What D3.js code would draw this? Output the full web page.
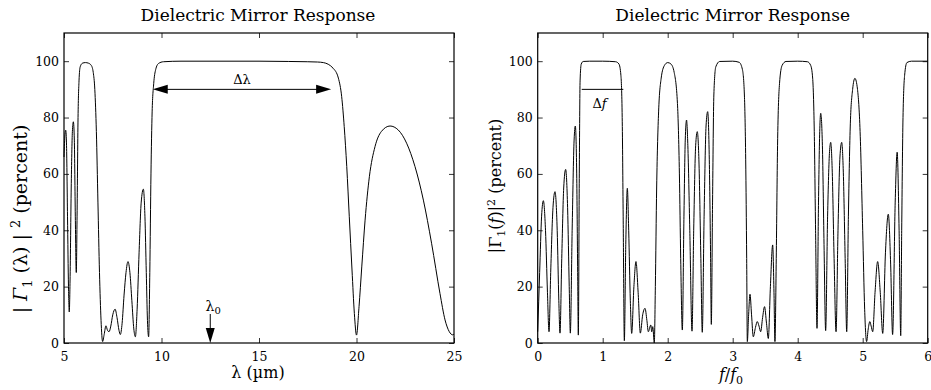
<!DOCTYPE html>
<html><head><meta charset="utf-8">
<script src="https://cdn.jsdelivr.net/npm/d3@7"></script>
<style>
body{margin:0;background:#fff}
text{font-family:"DejaVu Serif","Liberation Serif",serif;fill:#000}
</style>
</head><body>
<svg id="c" width="931" height="390"></svg>
<script>
// ---- data ----
const lambdaVals = [5.0,5.05,5.09,5.13,5.18,5.23,5.27,5.31,5.37,5.43,5.48,5.53,5.58,5.63,5.67,5.72,5.77,5.83,5.95,6.1,6.25,6.4,6.5,6.58,6.66,6.74,6.82,6.9,6.98,7.06,7.15,7.23,7.31,7.4,7.5,7.62,7.72,7.82,7.89,7.98,8.08,8.18,8.28,8.38,8.48,8.58,8.66,8.75,8.85,8.96,9.07,9.15,9.22,9.28,9.34,9.4,9.46,9.52,9.6,9.7,9.85,10.1,11,13,15,16.5,17.5,18.0,18.3,18.8,19.07,19.24,19.37,19.5,19.63,19.77,19.89,20.0,20.13,20.27,20.44,20.66,20.95,21.27,21.72,22.14,22.57,23.0,23.43,23.85,24.28,24.54,24.76,24.93,25.0];
const lambdaRefl = [66,74,75.5,70,45,20,11,22,55,75,78.5,72,45,25,45,80,93,98,99.3,99.5,99.3,98.5,96,90,75,50,25,8,0.5,3,6.1,4.5,4,6,10,12,9,4.5,3,7,17,25,28.9,25,15,5,2.2,12,32,50,54.6,45,25,8,2.2,25,60,82,92,97,99.2,99.8,100,100,100,99.9,99.8,99.7,99.5,97.5,94,87.4,76.8,62.6,44.8,25.9,10.5,2.8,12.9,27,43.6,59,69.7,75,77,75.6,70.9,62.6,50.7,35.4,17.6,8.2,4,2.9,3.2];

const freqVals = [0,0.03,0.06,0.087,0.12,0.15,0.174,0.2,0.235,0.266,0.3,0.325,0.343,0.37,0.4,0.43,0.46,0.485,0.502,0.53,0.56,0.579,0.6,0.615,0.625,0.64,0.652,0.67,0.7,0.8,1.0,1.2,1.25,1.28,1.3,1.315,1.333,1.355,1.379,1.4,1.425,1.446,1.48,1.512,1.545,1.579,1.615,1.651,1.68,1.702,1.74,1.754,1.77,1.794,1.81,1.83,1.86,1.9,1.95,2.0,2.05,2.1,2.15,2.18,2.2,2.225,2.25,2.27,2.29,2.31,2.34,2.374,2.4,2.43,2.455,2.48,2.51,2.532,2.56,2.59,2.615,2.64,2.66,2.671,2.69,2.71,2.74,2.8,3.0,3.1,3.15,3.18,3.2,3.215,3.225,3.245,3.266,3.29,3.317,3.35,3.378,3.405,3.43,3.46,3.49,3.52,3.548,3.58,3.615,3.635,3.65,3.67,3.69,3.72,3.76,3.82,4.0,4.15,4.2,4.23,4.255,4.275,4.297,4.32,4.34,4.354,4.38,4.405,4.43,4.46,4.49,4.508,4.53,4.56,4.59,4.62,4.65,4.677,4.7,4.73,4.754,4.78,4.81,4.845,4.88,4.92,4.96,5.0,5.03,5.06,5.085,5.11,5.13,5.154,5.19,5.23,5.27,5.308,5.35,5.394,5.43,5.46,5.5,5.53,5.56,5.585,5.6,5.62,5.645,5.68,5.75,6.0];
const freqRefl = [4,25,45,50.5,40,18,4,25,48,53.7,40,15,3.5,30,55,61.6,48,20,3.5,40,72,77,60,25,2.8,60,93,99,99.9,100,100,99.8,99,95,80,45,0.8,35,54.9,40,15,3.4,20,28.9,18,3.5,10,12.3,8,4,6.4,4,5.8,0,20,55,82,94,98.5,99.5,99,96,85,60,30,4.6,45,72,79.1,70,40,4.2,40,70,75,65,30,3.8,45,77,82.1,65,30,6.6,50,88,98,99.9,100,99.6,97,88,65,30,0.5,10,17.3,10,2.2,5.5,7.6,6,4,9,12.9,7,1.6,20,34.8,18,0.5,30,70,92,98.5,99.9,100,99.8,98.5,94,75,40,5.2,50,76,81.5,70,35,4.4,45,68,71.2,62,30,4,40,66,71.2,62,30,4,45,78,90,93.9,90,75,40,12,0.5,5,7.6,6,4,18,28.9,18,3.4,32,45.7,28,3,50,67.7,40,2.6,40,80,95,99.5,100,100];

const lambdaTicks = [5,10,15,20,25];
const freqTicks = [0,1,2,3,4,5,6];
const reflTicks = [0,20,40,60,80,100];
const lambdaBand = [9.55,18.7];   // Δλ arrow span
const freqBand = [0.677,1.317];   // Δf line span
const bandLevel = 90;
const lambda0 = 12.5;

// ---- drawing ----
const svg = d3.select("#c");
const yTop = 33, yBot = 343;

function panel(x0, x1, xDomain, xTicks, xs, ys){
  const x = d3.scaleLinear().domain(xDomain).range([x0, x1]);
  const y = d3.scaleLinear().domain([0,110]).range([yBot, yTop]);
  const g = svg.append("g");
  const tk = 5;
  const ax = (gen, tr) => {
    const a = g.append("g").attr("transform", tr).call(gen);
    a.select(".domain").remove();
    a.selectAll("line").attr("stroke","#000").attr("stroke-width",0.8);
    a.selectAll("text").attr("font-family","DejaVu Serif").attr("font-size",12.5).attr("fill","#000");
    return a;
  };
  ax(d3.axisBottom(x).tickValues(xTicks).tickSize(-tk).tickPadding(9).tickFormat(d3.format("d")), `translate(0,${yBot})`);
  ax(d3.axisTop(x).tickValues(xTicks).tickSize(-tk).tickFormat(""), `translate(0,${yTop})`);
  ax(d3.axisLeft(y).tickValues(reflTicks).tickSize(-tk).tickPadding(5).tickFormat(d3.format("d")), `translate(${x0},0)`);
  ax(d3.axisRight(y).tickValues(reflTicks).tickSize(-tk).tickFormat(""), `translate(${x1},0)`);
  g.append("rect").attr("x",x0).attr("y",yTop).attr("width",x1-x0).attr("height",yBot-yTop)
    .attr("fill","none").attr("stroke","#000").attr("stroke-width",1.2);
  const line = d3.line().x(d=>x(d[0])).y(d=>y(d[1])).curve(d3.curveMonotoneX);
  g.append("path").datum(xs.map((v,i)=>[v, ys[i]])).attr("d", line)
    .attr("fill","none").attr("stroke","#000").attr("stroke-width",1);
  return {g, x, y};
}

const L = panel(64, 454, [5,25], lambdaTicks, lambdaVals, lambdaRefl);
const R = panel(537.7, 927.7, [0,6], freqTicks, freqVals, freqRefl);

// titles
[[L,258],[R,732.7]].forEach(([p,cx])=>{
  p.g.append("text").attr("x",cx).attr("y",20.5).attr("text-anchor","middle")
    .attr("font-size",17).text("Dielectric Mirror Response");
});

// x labels
const xl = L.g.append("text").attr("x",258).attr("y",378).attr("text-anchor","middle").attr("font-size",16);
xl.append("tspan").text("λ (µm)");
const xr = R.g.append("text").attr("x",731).attr("y",380).attr("text-anchor","middle").attr("font-size",16);
xr.append("tspan").attr("font-style","italic").text("f");
xr.append("tspan").text("/");
xr.append("tspan").attr("font-style","italic").text("f");
xr.append("tspan").attr("font-size",11).attr("dy",4).text("0");

// y labels
function ylab(g, cx, cy, fs, inner, gammaItalic, argItalic, gap){
  const t = g.append("text").attr("transform",`translate(${cx},${cy}) rotate(-90)`)
    .attr("text-anchor","middle").attr("font-size",fs);
  const sub = Math.round(fs*0.68);
  t.append("tspan").text(gap ? "| " : "|");
  t.append("tspan").attr("font-style", gammaItalic?"italic":"normal").text("Γ");
  t.append("tspan").attr("font-size",sub).attr("dy",fs*0.25).text("1");
  t.append("tspan").attr("dy",-fs*0.25).text(gap ? " (" : "(");
  t.append("tspan").attr("font-style", argItalic?"italic":"normal").text(inner);
  t.append("tspan").text(gap ? ") | " : ")|");
  t.append("tspan").attr("font-size",sub).attr("dy",-fs*0.38).text("2");
  t.append("tspan").attr("dy",fs*0.38).text(gap ? "   (percent)" : "  (percent)");
}
ylab(L.g, 27, 219, 19, "λ", true, false, true);
ylab(R.g, 501, 186, 16, "f", false, true, false);

// Δλ double arrow
const ay = L.y(bandLevel);
const xa = L.x(lambdaBand[0]), xb = L.x(lambdaBand[1]);
L.g.append("line").attr("x1",xa+10).attr("x2",xb-10).attr("y1",ay).attr("y2",ay).attr("stroke","#000").attr("stroke-width",1);
L.g.append("path").attr("d",`M${xa},${ay}L${xa+15},${ay-4.5}L${xa+15},${ay+4.5}Z`).attr("fill","#000");
L.g.append("path").attr("d",`M${xb},${ay}L${xb-15},${ay-4.5}L${xb-15},${ay+4.5}Z`).attr("fill","#000");
L.g.append("text").attr("x",242).attr("y",84).attr("text-anchor","middle").attr("font-size",13).text("Δλ");

// λ0 arrow
const lx = L.x(lambda0);
L.g.append("line").attr("x1",lx).attr("x2",lx).attr("y1",314).attr("y2",330).attr("stroke","#000").attr("stroke-width",1);
L.g.append("path").attr("d",`M${lx},${yBot}L${lx-4.5},${yBot-15}L${lx+4.5},${yBot-15}Z`).attr("fill","#000");
const l0 = L.g.append("text").attr("x",205.5).attr("y",311).attr("font-size",14);
l0.append("tspan").text("λ");
l0.append("tspan").attr("font-size",10).attr("dy",3).text("0");

// Δf line
const fy = R.y(bandLevel);
R.g.append("line").attr("x1",R.x(freqBand[0])).attr("x2",R.x(freqBand[1])).attr("y1",fy).attr("y2",fy).attr("stroke","#000").attr("stroke-width",1);
const df = R.g.append("text").attr("x",599.5).attr("y",108).attr("text-anchor","middle").attr("font-size",13);
df.append("tspan").text("Δ");
df.append("tspan").attr("font-style","italic").text("f");
</script>
</body></html>
